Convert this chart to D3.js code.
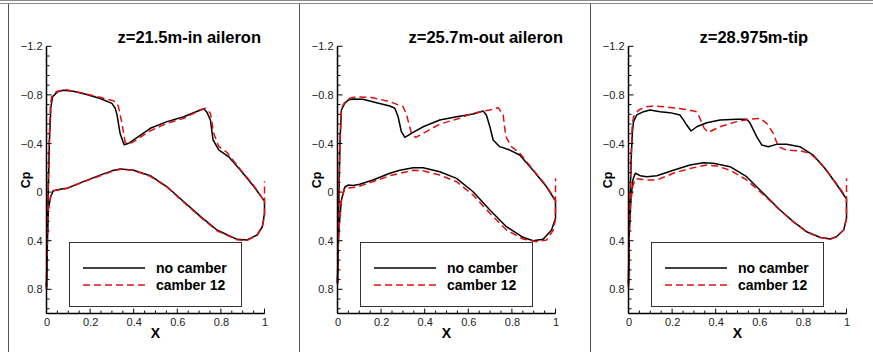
<!DOCTYPE html>
<html>
<head>
<meta charset="utf-8">
<script src="https://cdn.jsdelivr.net/npm/d3@7"></script>
<style>
  html, body { margin: 0; padding: 0; background: #fff; }
  svg { display: block; }
  text { font-family: Arial, "Liberation Sans", sans-serif; }
</style>
</head>
<body>
<svg id="chart" width="873" height="352"></svg>
<script>
// Axis ticks and labels
const xTicks = [0, 0.2, 0.4, 0.6, 0.8, 1];
const cpTicks = [-1.2, -0.8, -0.4, 0, 0.4, 0.8];
const sectionTitles = ["z=21.5m-in aileron", "z=25.7m-out aileron", "z=28.975m-tip"];
const seriesNames = ["no camber", "camber 12"];

// Section z=21.5m (inboard aileron) — [x/c, Cp]
const inBaseUpper = [[0,0.78],[0.003,0.4],[0.008,0.0],[0.013,-0.4],[0.02,-0.7],[0.028,-0.785],[0.05,-0.825],[0.077,-0.838],[0.123,-0.83],[0.18,-0.805],[0.246,-0.77],[0.3,-0.73],[0.315,-0.69],[0.323,-0.64],[0.338,-0.48],[0.356,-0.39],[0.375,-0.4],[0.4,-0.43],[0.476,-0.525],[0.553,-0.58],[0.63,-0.62],[0.706,-0.676],[0.721,-0.686],[0.735,-0.66],[0.752,-0.593],[0.764,-0.43],[0.79,-0.347],[0.836,-0.29],[0.89,-0.18],[0.952,-0.044],[0.994,0.06],[1,0.07]];
const inBaseLower = [[0,0.78],[0.003,0.5],[0.008,0.147],[0.019,0.038],[0.031,-0.012],[0.062,-0.023],[0.093,-0.031],[0.169,-0.086],[0.246,-0.14],[0.3,-0.175],[0.338,-0.19],[0.4,-0.18],[0.476,-0.135],[0.553,-0.044],[0.63,0.079],[0.706,0.2],[0.782,0.312],[0.874,0.389],[0.92,0.394],[0.966,0.353],[0.99,0.285],[1,0.175],[1,0.07]];
const inCamberUpper = [[0,0.8],[0.003,0.4],[0.007,0],[0.012,-0.4],[0.018,-0.72],[0.024,-0.785],[0.045,-0.826],[0.085,-0.846],[0.169,-0.813],[0.246,-0.78],[0.307,-0.752],[0.322,-0.73],[0.33,-0.703],[0.346,-0.566],[0.361,-0.41],[0.376,-0.396],[0.4,-0.415],[0.476,-0.505],[0.553,-0.567],[0.63,-0.607],[0.706,-0.676],[0.728,-0.69],[0.752,-0.649],[0.767,-0.484],[0.79,-0.376],[0.828,-0.326],[0.89,-0.185],[0.952,-0.05],[0.994,0.06]];
const inCamberLower = [[0,0.8],[0.003,0.5],[0.008,0.15],[0.019,0.04],[0.031,-0.01],[0.062,-0.02],[0.093,-0.03],[0.169,-0.083],[0.246,-0.135],[0.3,-0.17],[0.345,-0.19],[0.4,-0.178],[0.476,-0.13],[0.553,-0.04],[0.63,0.085],[0.706,0.205],[0.782,0.318],[0.874,0.392],[0.92,0.398],[0.966,0.355],[0.99,0.285],[1,0.2],[1,-0.09]];

// Section z=25.7m (outboard aileron)
const outBaseUpper = [[0,0.75],[0.003,0.4],[0.007,0],[0.011,-0.4],[0.018,-0.676],[0.033,-0.73],[0.049,-0.758],[0.072,-0.766],[0.117,-0.764],[0.179,-0.736],[0.24,-0.709],[0.263,-0.69],[0.278,-0.62],[0.293,-0.497],[0.309,-0.45],[0.339,-0.484],[0.393,-0.538],[0.469,-0.593],[0.546,-0.62],[0.622,-0.643],[0.668,-0.667],[0.683,-0.635],[0.699,-0.538],[0.714,-0.429],[0.744,-0.374],[0.79,-0.346],[0.836,-0.305],[0.897,-0.18],[0.959,-0.044],[0.997,0.065]];
const outBaseLower = [[0,0.75],[0.003,0.47],[0.007,0.285],[0.018,0.065],[0.033,-0.04],[0.049,-0.058],[0.072,-0.055],[0.102,-0.064],[0.163,-0.1],[0.24,-0.155],[0.286,-0.18],[0.347,-0.2],[0.393,-0.2],[0.469,-0.168],[0.546,-0.113],[0.622,-0.003],[0.699,0.147],[0.775,0.285],[0.851,0.372],[0.897,0.4],[0.943,0.389],[0.982,0.312],[1,0.216],[1,0.065]];
const outCamberUpper = [[0,0.75],[0.003,0.4],[0.007,0],[0.011,-0.4],[0.018,-0.69],[0.03,-0.73],[0.056,-0.772],[0.087,-0.785],[0.163,-0.777],[0.24,-0.744],[0.301,-0.703],[0.317,-0.635],[0.339,-0.484],[0.359,-0.45],[0.393,-0.484],[0.469,-0.56],[0.546,-0.6],[0.622,-0.649],[0.699,-0.676],[0.737,-0.695],[0.76,-0.635],[0.772,-0.456],[0.798,-0.374],[0.836,-0.32],[0.897,-0.185],[0.959,-0.05],[0.997,0.06]];
const outCamberLower = [[0,0.75],[0.003,0.47],[0.007,0.285],[0.018,0.07],[0.033,-0.03],[0.087,-0.04],[0.163,-0.086],[0.24,-0.135],[0.347,-0.18],[0.393,-0.175],[0.469,-0.14],[0.546,-0.086],[0.622,0.024],[0.699,0.174],[0.775,0.312],[0.851,0.386],[0.913,0.408],[0.959,0.394],[0.99,0.312],[1,0.22],[1,-0.113]];

// Section z=28.975m (tip)
const tipBaseUpper = [[0,0.75],[0.004,0.3],[0.008,0],[0.013,-0.3],[0.018,-0.5],[0.023,-0.58],[0.038,-0.635],[0.069,-0.662],[0.099,-0.676],[0.145,-0.662],[0.19,-0.654],[0.236,-0.635],[0.252,-0.594],[0.267,-0.552],[0.287,-0.503],[0.313,-0.538],[0.359,-0.571],[0.42,-0.593],[0.496,-0.6],[0.542,-0.599],[0.557,-0.57],[0.588,-0.456],[0.611,-0.388],[0.641,-0.374],[0.679,-0.393],[0.725,-0.393],[0.786,-0.374],[0.847,-0.305],[0.908,-0.18],[0.962,-0.044],[0.993,0.038],[1,0.05]];
const tipBaseLower = [[0,0.75],[0.003,0.34],[0.011,0.065],[0.02,-0.1],[0.031,-0.155],[0.054,-0.135],[0.084,-0.127],[0.13,-0.135],[0.206,-0.18],[0.282,-0.223],[0.343,-0.242],[0.389,-0.237],[0.466,-0.209],[0.542,-0.127],[0.618,0.01],[0.695,0.147],[0.756,0.243],[0.817,0.326],[0.878,0.372],[0.924,0.386],[0.954,0.367],[0.987,0.312],[1,0.216],[1,0.05]];
const tipCamberUpper = [[0,0.78],[0.004,0.3],[0.008,0],[0.012,-0.3],[0.017,-0.55],[0.023,-0.62],[0.046,-0.676],[0.084,-0.703],[0.115,-0.71],[0.19,-0.697],[0.267,-0.68],[0.313,-0.662],[0.328,-0.607],[0.347,-0.525],[0.366,-0.492],[0.42,-0.538],[0.496,-0.58],[0.557,-0.6],[0.603,-0.607],[0.634,-0.566],[0.664,-0.484],[0.687,-0.374],[0.725,-0.346],[0.786,-0.34],[0.832,-0.32],[0.878,-0.245],[0.908,-0.18],[0.962,-0.05],[0.997,0.04]];
const tipCamberLower = [[0,0.78],[0.003,0.34],[0.01,0.08],[0.02,-0.05],[0.031,-0.11],[0.084,-0.1],[0.13,-0.1],[0.206,-0.155],[0.282,-0.195],[0.359,-0.223],[0.405,-0.215],[0.466,-0.18],[0.542,-0.1],[0.618,0.02],[0.695,0.15],[0.756,0.245],[0.817,0.328],[0.878,0.373],[0.924,0.388],[0.954,0.368],[0.987,0.312],[1,0.22],[1,-0.113]];

const sections = [
  { title: sectionTitles[0], base: [inBaseUpper, inBaseLower], camber: [inCamberUpper, inCamberLower] },
  { title: sectionTitles[1], base: [outBaseUpper, outBaseLower], camber: [outCamberUpper, outCamberLower] },
  { title: sectionTitles[2], base: [tipBaseUpper, tipBaseLower], camber: [tipCamberUpper, tipCamberLower] }
];

const svg = d3.select("#chart");
const panelLeft = [8, 299, 590];
const plotW = 218, plotTop = 46.3, plotBottom = 313.6;
const red = "#e01010";
const dash = "7,4";

// frame: double rule along the top and panel separators
svg.append("line").attr("x1", 0).attr("x2", 873).attr("y1", 0.5).attr("y2", 0.5).attr("stroke", "#8a8a8a");
svg.append("line").attr("x1", 0).attr("x2", 873).attr("y1", 3.5).attr("y2", 3.5).attr("stroke", "#8a8a8a");
panelLeft.forEach(px => {
  svg.append("line").attr("x1", px + 0.5).attr("x2", px + 0.5).attr("y1", 3.5).attr("y2", 352)
    .attr("stroke", "#555");
});

sections.forEach((sec, i) => {
  const x0 = panelLeft[i] + 38.5;
  const x = d3.scaleLinear().domain([0, 1]).range([x0, x0 + plotW]);
  const y = d3.scaleLinear().domain([-1.2, 1.0]).range([plotTop, plotBottom]);
  const g = svg.append("g");

  // title
  g.append("text").attr("x", x0 + 71).attr("y", 43)
    .attr("font-size", "16.5px").attr("font-weight", "bold").attr("fill", "#000")
    .text(sec.title);

  // curves
  const line = d3.line().x(d => x(d[0])).y(d => y(d[1]));
  sec.base.forEach(arr => {
    g.append("path").datum(arr).attr("d", line)
      .attr("fill", "none").attr("stroke", "#000").attr("stroke-width", 1.5)
      .attr("stroke-linejoin", "round");
  });
  sec.camber.forEach(arr => {
    g.append("path").datum(arr).attr("d", line)
      .attr("fill", "none").attr("stroke", red).attr("stroke-width", 1.5)
      .attr("stroke-dasharray", dash).attr("stroke-linejoin", "round");
  });

  // legend
  const lx = x0 + 22.5, ly = 242, lw = 172, lh = 64;
  g.append("rect").attr("x", lx + 0.5).attr("y", ly + 0.5).attr("width", lw).attr("height", lh)
    .attr("fill", "#fff").attr("stroke", "#333").attr("stroke-width", 1);
  const rows = [{ name: seriesNames[0], color: "#000", dash: null, yy: 268 },
                { name: seriesNames[1], color: red, dash: dash, yy: 285 }];
  rows.forEach(r => {
    const ln = g.append("line").attr("x1", x0 + 36.5).attr("x2", x0 + 98.5)
      .attr("y1", r.yy).attr("y2", r.yy).attr("stroke", r.color).attr("stroke-width", 1.5);
    if (r.dash) ln.attr("stroke-dasharray", r.dash);
    g.append("text").attr("x", x0 + 109.5).attr("y", r.yy + 5)
      .attr("font-size", "14px").attr("font-weight", "bold").text(r.name);
  });

  // axes: ticks point inward, minor ticks between majors
  const yAxis = d3.axisLeft(y).tickValues(cpTicks).tickSize(0).tickPadding(4)
    .tickFormat(d => d === 0 ? "0" : d3.format(".1f")(d));
  const ya = g.append("g").attr("transform", `translate(${x0},0)`).call(yAxis);
  ya.select(".domain").remove();
  ya.selectAll("text").attr("font-size", "11px").attr("fill", "#222").attr("font-family", "Arial, 'Liberation Sans', sans-serif");

  const xAxis = d3.axisBottom(x).tickValues(xTicks).tickSize(0).tickPadding(5)
    .tickFormat(d => d === 0 || d === 1 ? String(d) : d3.format(".1f")(d));
  const xa = g.append("g").attr("transform", `translate(0,${plotBottom})`).call(xAxis);
  xa.select(".domain").remove();
  xa.selectAll("text").attr("font-size", "11px").attr("fill", "#222").attr("font-family", "Arial, 'Liberation Sans', sans-serif");

  // tick marks
  const yMinor = d3.range(-1.2, 1.0001, 0.08).map(v => +v.toFixed(2));
  yMinor.forEach(v => {
    const major = cpTicks.some(t => Math.abs(t - v) < 1e-6);
    g.append("line").attr("x1", x0).attr("x2", x0 + (major ? 5 : 3))
      .attr("y1", y(v)).attr("y2", y(v)).attr("stroke", "#000").attr("stroke-width", 1);
  });
  const xMinor = d3.range(0, 1.0001, 0.05).map(v => +v.toFixed(2));
  xMinor.forEach(v => {
    const major = xTicks.some(t => Math.abs(t - v) < 1e-6);
    g.append("line").attr("x1", x(v)).attr("x2", x(v))
      .attr("y1", plotBottom).attr("y2", plotBottom - (major ? 5 : 3)).attr("stroke", "#000").attr("stroke-width", 1);
  });

  // axis lines
  g.append("line").attr("x1", x0).attr("x2", x0).attr("y1", plotTop).attr("y2", plotBottom)
    .attr("stroke", "#000").attr("stroke-width", 1.5);
  g.append("line").attr("x1", x0).attr("x2", x0 + plotW).attr("y1", plotBottom).attr("y2", plotBottom)
    .attr("stroke", "#000").attr("stroke-width", 1.5);

  // axis titles
  g.append("text").attr("x", x0 + plotW / 2).attr("y", 338).attr("text-anchor", "middle")
    .attr("font-size", "14px").attr("font-weight", "bold").text("X");
  g.append("text").attr("transform", `translate(${x0 - 17},${(plotTop + plotBottom) / 2}) rotate(-90)`)
    .attr("text-anchor", "middle").attr("font-size", "12.5px").attr("font-weight", "bold").text("Cp");
});
</script>
</body>
</html>
